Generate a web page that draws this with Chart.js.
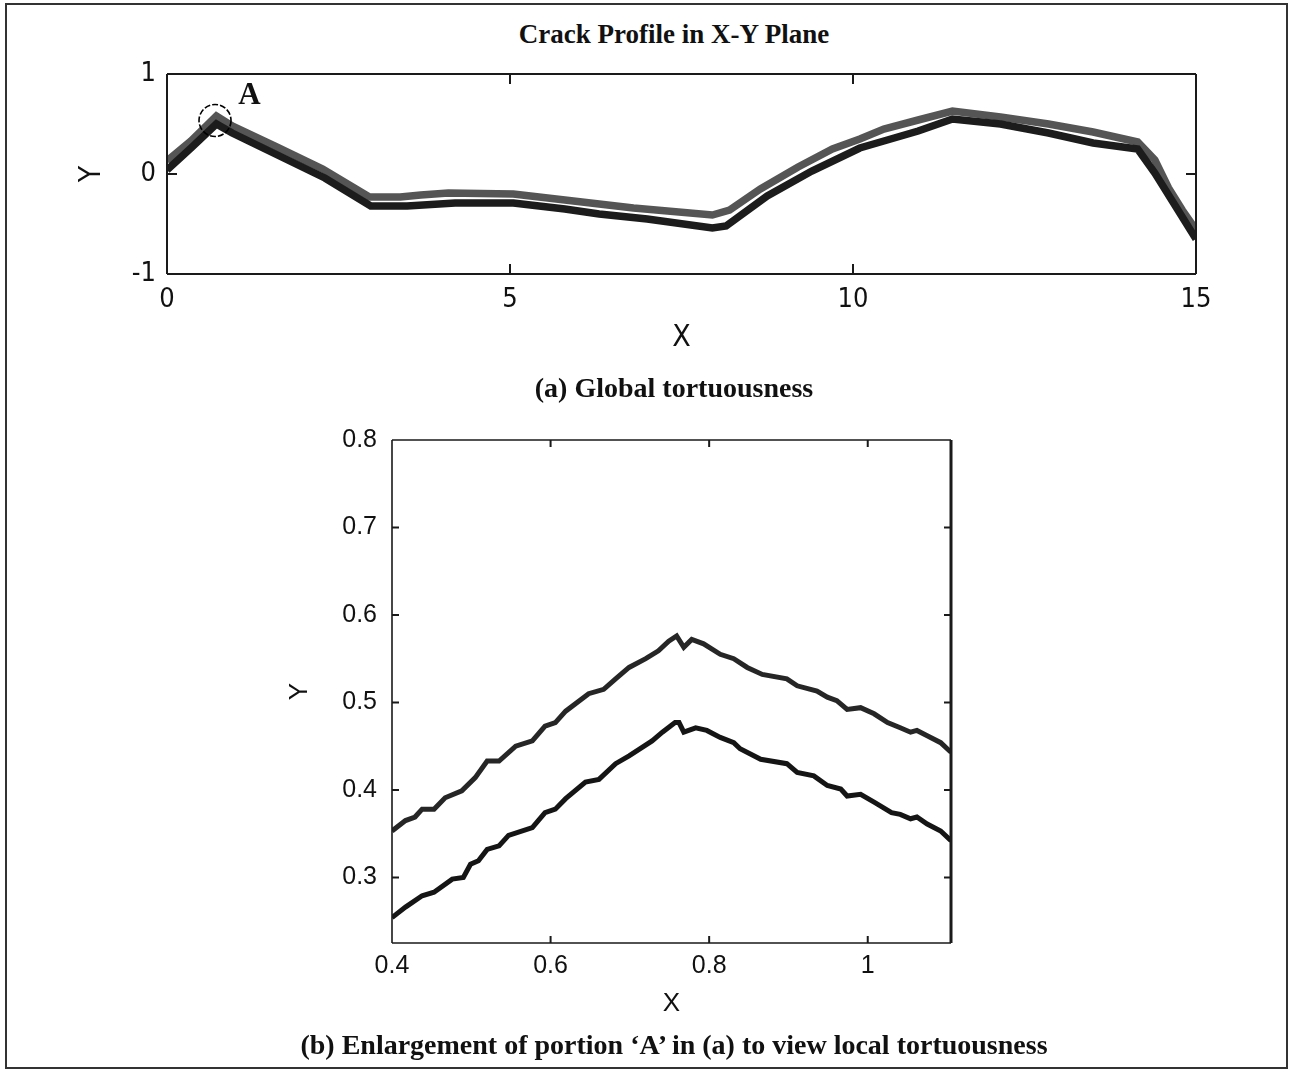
<!DOCTYPE html>
<html>
<head>
<meta charset="utf-8">
<script src="https://cdn.jsdelivr.net/npm/chart.js@4.4.1/dist/chart.umd.min.js"></script>
<style>
html,body{margin:0;padding:0;background:#fff;}
#page{position:relative;width:1292px;height:1074px;overflow:hidden;background:#fff;}
#frame{position:absolute;left:5px;top:3px;width:1283px;height:1066px;border:2px solid #333;box-sizing:border-box;}
.cap{position:absolute;left:0;width:1348px;text-align:center;font-family:"Liberation Serif","Times New Roman",serif;font-weight:bold;color:#111;white-space:nowrap;line-height:30px;}
canvas{position:absolute;left:0;}
</style>
</head>
<body>
<div id="page">
  <div id="frame"></div>
  <div class="cap" id="title" style="top:19px;font-size:27px;">Crack Profile in X-Y Plane</div>
  <canvas id="c1" width="1292" height="380" style="top:0px;"></canvas>
  <div class="cap" style="top:373px;font-size:28px;">(a) Global tortuousness</div>
  <canvas id="c2" width="1292" height="640" style="top:400px;"></canvas>
  <div class="cap" style="top:1030px;font-size:28px;">(b) Enlargement of portion ‘A’ in (a) to view local tortuousness</div>
</div>
<script>
// ---------- (a) global profile : two crack faces ----------
const globalUpperX = [0, 0.35, 0.72, 0.95, 1.6, 2.27, 2.95, 3.4, 3.7, 4.1, 5.05, 5.8, 6.8, 7.95, 8.2, 8.65, 9.2, 9.7, 10.1, 10.45, 10.95, 11.45, 12.15, 12.85, 13.5, 14.15, 14.4, 14.6, 14.8, 15.0];
const globalUpperY = [0.13, 0.33, 0.58, 0.48, 0.27, 0.05, -0.23, -0.23, -0.21, -0.19, -0.20, -0.26, -0.34, -0.41, -0.36, -0.15, 0.07, 0.25, 0.35, 0.45, 0.54, 0.63, 0.57, 0.50, 0.42, 0.32, 0.14, -0.14, -0.36, -0.56];
const globalLowerX = [0, 0.35, 0.72, 0.95, 1.7, 2.3, 2.97, 3.5, 4.2, 5.05, 5.8, 6.3, 7.0, 7.95, 8.15, 8.75, 9.4, 10.1, 10.5, 10.95, 11.45, 12.15, 12.85, 13.5, 14.15, 14.4, 14.7, 15.0];
const globalLowerY = [0.04, 0.26, 0.50, 0.41, 0.16, -0.04, -0.32, -0.32, -0.29, -0.29, -0.35, -0.40, -0.45, -0.54, -0.52, -0.22, 0.03, 0.26, 0.34, 0.43, 0.55, 0.50, 0.41, 0.31, 0.25, 0.01, -0.32, -0.65];
const globalXTicks = [0, 5, 10, 15];
const globalYTicks = [-1, 0, 1];

// ---------- (b) enlargement of portion A ----------
const localUpperX = [0.400,0.417,0.429,0.438,0.453,0.467,0.488,0.505,0.520,0.535,0.556,0.577,0.593,0.606,0.619,0.648,0.667,0.682,0.699,0.720,0.736,0.749,0.759,0.768,0.778,0.793,0.814,0.831,0.848,0.867,0.898,0.911,0.936,0.949,0.961,0.974,0.991,1.008,1.025,1.041,1.054,1.062,1.075,1.092,1.105];
const localUpperY = [0.353,0.365,0.369,0.378,0.378,0.391,0.399,0.414,0.433,0.433,0.450,0.456,0.473,0.477,0.490,0.510,0.515,0.527,0.540,0.550,0.559,0.570,0.576,0.563,0.572,0.567,0.555,0.550,0.540,0.532,0.527,0.519,0.513,0.506,0.502,0.492,0.494,0.487,0.477,0.471,0.466,0.468,0.462,0.454,0.443];
const localLowerX = [0.400,0.417,0.438,0.453,0.476,0.490,0.499,0.509,0.520,0.535,0.547,0.577,0.593,0.606,0.619,0.644,0.661,0.682,0.699,0.728,0.741,0.757,0.762,0.768,0.783,0.797,0.814,0.831,0.839,0.865,0.898,0.911,0.932,0.949,0.966,0.974,0.991,1.008,1.030,1.041,1.054,1.062,1.075,1.092,1.105];
const localLowerY = [0.254,0.266,0.279,0.283,0.298,0.300,0.315,0.319,0.332,0.336,0.348,0.357,0.374,0.378,0.390,0.409,0.412,0.430,0.439,0.456,0.466,0.477,0.477,0.466,0.471,0.468,0.460,0.454,0.447,0.435,0.430,0.420,0.416,0.405,0.401,0.393,0.395,0.386,0.374,0.372,0.367,0.369,0.361,0.353,0.342];
const localXTicks = [0.4, 0.6, 0.8, 1];
const localYTicks = [0.3, 0.4, 0.5, 0.6, 0.7, 0.8];

// annotation for portion A (data coordinates)
const markACenter = {x: 0.70, y: 0.535};
const markALabel = {x: 1.20, y: 0.78, text: 'A'};

function pts(xs, ys){ return xs.map((v,i)=>({x:v, y:ys[i]})); }

const frameTicks = {
  id: 'frameTicks',
  afterDraw(chart, args, o){
    const {ctx, chartArea:a} = chart;
    const xs = chart.scales.x, ys = chart.scales.y;
    ctx.save();
    ctx.strokeStyle = o.color || '#1a1a1a';
    ctx.lineWidth = o.tickWidth || 2;
    ctx.beginPath();
    xs.ticks.forEach(t=>{
      const p = xs.getPixelForValue(t.value);
      if (p <= a.left+2 || p >= a.right-2) return;
      ctx.moveTo(p, a.bottom); ctx.lineTo(p, a.bottom - o.len);
      ctx.moveTo(p, a.top); ctx.lineTo(p, a.top + o.len);
    });
    ys.ticks.forEach(t=>{
      const p = ys.getPixelForValue(t.value);
      if (p <= a.top+2 || p >= a.bottom-2) return;
      ctx.moveTo(a.left, p); ctx.lineTo(a.left + o.len, p);
      ctx.moveTo(a.right, p); ctx.lineTo(a.right - o.len, p);
    });
    ctx.stroke();
    const w = o.boxWidth || 2;
    ctx.lineWidth = w;
    ctx.beginPath();
    ctx.moveTo(a.left, a.top); ctx.lineTo(a.right, a.top);
    ctx.moveTo(a.left, a.top); ctx.lineTo(a.left, a.bottom);
    ctx.moveTo(a.left, a.bottom); ctx.lineTo(a.right, a.bottom);
    ctx.stroke();
    ctx.lineWidth = o.rightWidth || w;
    ctx.beginPath();
    ctx.moveTo(a.right, a.top); ctx.lineTo(a.right, a.bottom);
    ctx.stroke();
    ctx.restore();
  }
};

const markA = {
  id: 'markA',
  afterDatasetsDraw(chart){
    const {ctx} = chart;
    const xs = chart.scales.x, ys = chart.scales.y;
    const cx = xs.getPixelForValue(markACenter.x), cy = ys.getPixelForValue(markACenter.y);
    ctx.save();
    ctx.strokeStyle = '#000';
    ctx.lineWidth = 1.6;
    ctx.setLineDash([6,2]);
    ctx.beginPath();
    ctx.arc(cx, cy, 16, 0, Math.PI*2);
    ctx.stroke();
    ctx.setLineDash([]);
    ctx.fillStyle = '#111';
    ctx.font = 'bold 31px "Liberation Serif", "Times New Roman", serif';
    ctx.textAlign = 'center';
    ctx.textBaseline = 'middle';
    ctx.fillText(markALabel.text, xs.getPixelForValue(markALabel.x), ys.getPixelForValue(markALabel.y));
    ctx.restore();
  }
};

const narrow = '"DejaVu Sans Condensed", "Liberation Sans Narrow", "Arial Narrow", "Liberation Sans", Arial, sans-serif';
const sans = '"Liberation Sans", Arial, Helvetica, sans-serif';

new Chart(document.getElementById('c1'), {
  type: 'line',
  data: {
    datasets: [
      {data: pts(globalLowerX, globalLowerY), borderColor: '#1c1c1c', borderWidth: 7.5, pointRadius: 0, tension: 0, borderJoinStyle: 'miter'},
      {data: pts(globalUpperX, globalUpperY), borderColor: '#555555', borderWidth: 7.5, pointRadius: 0, tension: 0, borderJoinStyle: 'miter'}
    ]
  },
  options: {
    responsive: false, animation: false, events: [],
    layout: {padding: {left: 0, top: 74, right: 96, bottom: 24}},
    plugins: {legend: {display: false}, tooltip: {enabled: false}, frameTicks: {len: 10, tickWidth: 2, boxWidth: 2}},
    scales: {
      x: {
        type: 'linear', min: 0, max: 15,
        afterBuildTicks: s => { s.ticks = globalXTicks.map(v=>({value:v})); },
        afterFit: s => { s.height = 82; },
        grid: {display: false, drawTicks: false}, border: {display: false},
        ticks: {padding: 10, color: '#111', font: {family: narrow, size: 27}, maxRotation: 0, autoSkip: false},
        title: {display: true, text: 'X', color: '#111', font: {family: narrow, size: 30}, padding: {top: 0, bottom: 0}}
      },
      y: {
        type: 'linear', min: -1, max: 1,
        afterBuildTicks: s => { s.ticks = globalYTicks.map(v=>({value:v})); },
        afterFit: s => { s.width = 167; },
        grid: {display: false, drawTicks: false}, border: {display: false},
        ticks: {padding: 11, color: '#111', font: {family: narrow, size: 27}},
        title: {display: true, text: 'Y', color: '#111', font: {family: narrow, size: 30}, padding: {top: 74, bottom: 0}}
      }
    }
  },
  plugins: [frameTicks, markA]
});

new Chart(document.getElementById('c2'), {
  type: 'line',
  data: {
    datasets: [
      {data: pts(localUpperX, localUpperY), borderColor: '#262626', borderWidth: 5, pointRadius: 0, tension: 0},
      {data: pts(localLowerX, localLowerY), borderColor: '#151515', borderWidth: 5, pointRadius: 0, tension: 0}
    ]
  },
  options: {
    responsive: false, animation: false, events: [],
    layout: {padding: {left: 0, top: 40, right: 341, bottom: 21}},
    plugins: {legend: {display: false}, tooltip: {enabled: false}, frameTicks: {len: 7, tickWidth: 2, boxWidth: 1.6, rightWidth: 3}},
    scales: {
      x: {
        type: 'linear', min: 0.4, max: 1.105,
        afterBuildTicks: s => { s.ticks = localXTicks.map(v=>({value:v})); },
        afterFit: s => { s.height = 76; },
        grid: {display: false, drawTicks: false}, border: {display: false},
        ticks: {padding: 8, color: '#111', font: {family: sans, size: 25}, maxRotation: 0, autoSkip: false,
                callback: v => String(Number(v.toFixed(2)))},
        title: {display: true, text: 'X', color: '#111', font: {family: sans, size: 26}, padding: {top: 0, bottom: 0}}
      },
      y: {
        type: 'linear', min: 0.225, max: 0.8,
        afterBuildTicks: s => { s.ticks = localYTicks.map(v=>({value:v})); },
        afterFit: s => { s.width = 392; },
        grid: {display: false, drawTicks: false}, border: {display: false},
        ticks: {padding: 15, color: '#111', font: {family: sans, size: 25},
                callback: v => String(Number(v.toFixed(2)))},
        title: {display: true, text: 'Y', color: '#111', font: {family: sans, size: 26}, padding: {top: 284, bottom: 0}}
      }
    }
  },
  plugins: [frameTicks]
});
</script>
</body>
</html>
